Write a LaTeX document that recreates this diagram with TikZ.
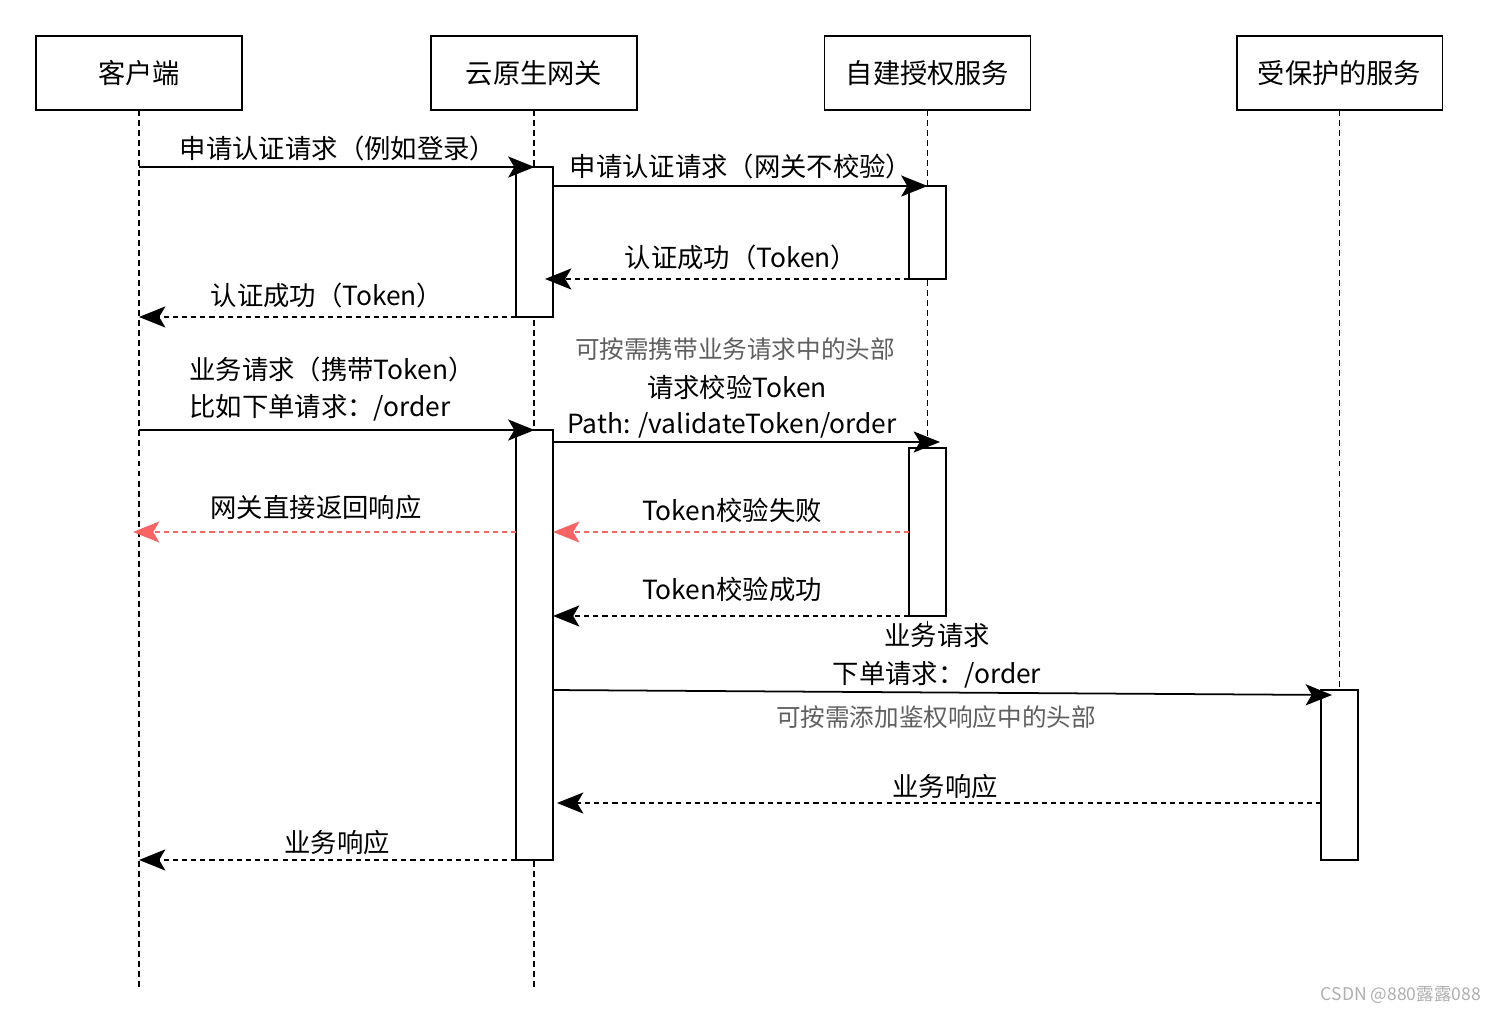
\documentclass[tikz,border=0pt]{standalone}
\usepackage{fontspec}
\setmainfont{Noto Sans CJK SC}
\usepackage{tikz}
\usetikzlibrary{arrows.meta,calc,positioning}
\definecolor{failred}{RGB}{248,100,100}
\definecolor{inkgray}{RGB}{95,95,95}
\definecolor{markgray}{RGB}{175,175,175}

\begin{document}
\begin{tikzpicture}[x=0.02cm,y=-0.02cm,
    actor/.style={draw,line width=1.1pt,fill=white,minimum width=4.12cm,minimum height=1.48cm,inner sep=0,outer sep=0,font=\fontsize{15.5}{18}\selectfont},
    act/.style={draw,line width=1.1pt,fill=white,minimum width=0.74cm,inner sep=0,outer sep=0},
    life/.style={line width=1pt,dash pattern=on 3.4pt off 2.3pt},
    msg/.style={line width=1pt,-{Stealth[length=15pt,width=12pt,inset=3.5pt]}},
    retmsg/.style={msg,dash pattern=on 2.9pt off 2.3pt},
    failmsg/.style={retmsg,failred},
    lbl/.style={inner sep=0,font=\fontsize{15}{21.5}\selectfont},
    note/.style={inner sep=0,text=inkgray,font=\fontsize{14}{17}\selectfont}]
  \useasboundingbox (0,0) rectangle (1500,1013);
  % the four parties
  \node[actor] (client) at (139,73) {客户端};
  \node[actor] (gw) at (534,73) {云原生网关};
  \node[actor] (auth) at (927.5,73) {自建授权服务};
  \node[actor] (svc) at (1339.5,73) {受保护的服务};
  % lifelines
  \draw[life] (client.south) -- (client.south |- 0,990);
  \draw[life] (gw.south) -- (gw.south |- 0,990);
  \draw[life] (auth.south) -- (auth.south |- 0,626);
  \draw[life] (svc.south) -- (svc.south |- 0,690);
  % activation bars
  \node[act,minimum height=3cm] (a1) at (534.5,242) {};
  \node[act,minimum height=1.86cm] (a2) at (927.5,232.5) {};
  \node[act,minimum height=8.6cm] (a3) at (534.5,645) {};
  \node[act,minimum height=3.36cm] (a4) at (927.5,532) {};
  \node[act,minimum height=3.4cm] (a5) at (1339.5,775) {};
  \coordinate (v6) at (940,442);
  \coordinate (v10) at (1332,695);
  % login
  \draw[msg] (client |- a1.north) -- (a1.north);
  \node[lbl] (t1) at (338,148) {申请认证请求（例如登录）};
  \draw[msg] (a1.east |- a2.north) -- (a2.north);
  \node[lbl] (t2) at (741,166) {申请认证请求（网关不校验）};
  \draw[retmsg] (a2.south west) -- ([xshift=-0.16cm]a1.east |- a2.south);
  \node[lbl] (t3) at (741,257) {认证成功（Token）};
  \draw[retmsg] (a1.south west) -- (client |- a1.south);
  \node[lbl] (t4) at (327,295) {认证成功（Token）};
  % business request
  \draw[msg] (client |- a3.north) -- (a3.north);
  \node[lbl,anchor=west,align=left] (t5) at (189,389) {业务请求（携带Token）\\比如下单请求：/order};
  \draw[msg] (a3.east |- v6) -- (v6);
  \node[note] (n6) at (735,349) {可按需携带业务请求中的头部};
  \node[lbl] (t6a) at (737,387) {请求校验Token};
  \node[lbl] (t6b) at (732,425) {Path: /validateToken/order};
  \draw[failmsg] (a4.west) -- (a3.east |- a4.west);
  \node[lbl] (t7) at (732,510) {Token校验失败};
  \draw[failmsg] (a3.west |- a4.west) -- ([xshift=-0.12cm]client |- a4.west);
  \node[lbl] (t8) at (316,507) {网关直接返回响应};
  \draw[retmsg] (a4.south west) -- (a3.east |- a4.south);
  \node[lbl] (t9) at (732,589) {Token校验成功};
  \draw[msg] (a3.east |- a5.north) -- (v10);
  \node[lbl,align=center] (t10) at (937,656) {业务请求\\下单请求：/order};
  \node[note] (n10) at (936,717) {可按需添加鉴权响应中的头部};
  \draw[retmsg] (a5.west |- 0,803) -- ([xshift=0.08cm]a3.east |- 0,803);
  \node[lbl] (t11) at (945,786) {业务响应};
  \draw[retmsg] (a3.south west) -- (client |- a3.south);
  \node[lbl] (t12) at (337,842) {业务响应};
  \node[inner sep=0,text=markgray,font=\fontsize{10}{12}\selectfont] (mark) at (1401,995) {CSDN @880露露088};
\end{tikzpicture}
\end{document}
